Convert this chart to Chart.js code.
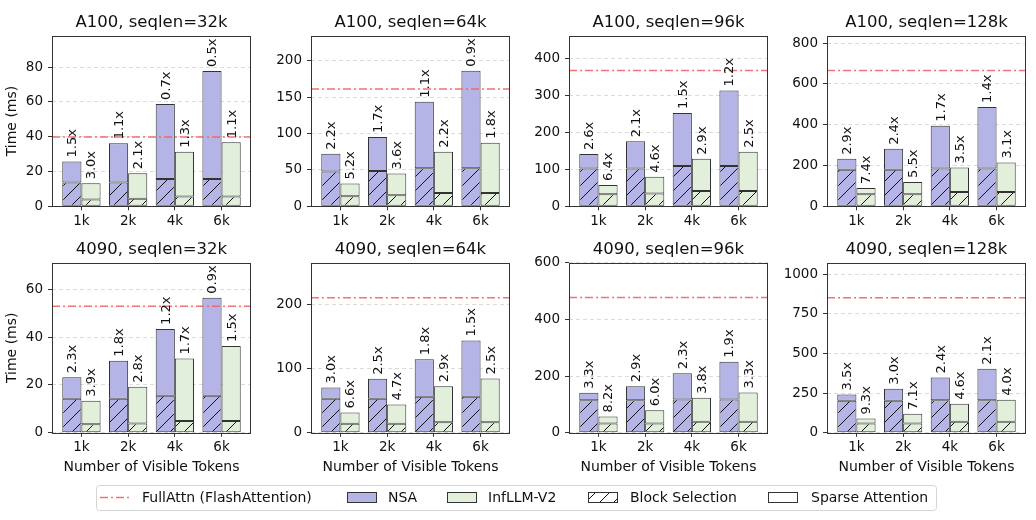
<!DOCTYPE html>
<html>
<head>
<meta charset="utf-8">
<script src="https://cdn.jsdelivr.net/npm/chart.js@4"></script>
<style>
  body { margin: 0; width: 1036px; height: 520px; background: #fff; position: relative; overflow: hidden; font-family: "DejaVu Sans", sans-serif; }
  .lg { position: absolute; top: 488px; height: 19px; line-height: 19px; font-size: 14px; color: #111; white-space: nowrap; }
</style>
</head>
<body>
<canvas id="legendCanvas" width="860" height="36" style="position:absolute;left:90px;top:480px"></canvas>
<span class="lg" style="left:142px">FullAttn (FlashAttention)</span>
<span class="lg" style="left:388px">NSA</span>
<span class="lg" style="left:488px">InfLLM-V2</span>
<span class="lg" style="left:630px">Block Selection</span>
<span class="lg" style="left:811px">Sparse Attention</span>
<script>
// Data (times in ms), one entry per panel
const categories = ['1k', '2k', '4k', '6k'];
const titles = ['A100, seqlen=32k', 'A100, seqlen=64k', 'A100, seqlen=96k', 'A100, seqlen=128k',
  '4090, seqlen=32k', '4090, seqlen=64k', '4090, seqlen=96k', '4090, seqlen=128k'];
const fullAttn = [39.8, 161, 366.6, 665.6, 52.9, 210.4, 477.6, 852.6];

const nsaBlock = [
  [13.7, 13.7, 15.7, 15.7], [47.7, 48.6, 52.3, 52.3], [102, 102, 109, 109], [178.7, 178.7, 185, 185],
  [14.2, 14.2, 15.5, 15.5], [53, 53, 56.1, 56.1], [115, 115, 117.6, 117.6], [202, 202, 206, 206]
];
const nsaSparse = [
  [12.1, 22.5, 43.1, 62.1], [24.3, 46.4, 91.3, 133.9], [38.9, 73.2, 142.9, 203.4], [54.1, 103.3, 210, 301.9],
  [9.0, 15.9, 27.9, 40.9], [17.6, 31.2, 58.7, 87.8], [26, 49.7, 93, 133], [40, 75.9, 143.5, 198.2]
];
const infBlock = [
  [3.9, 4.3, 5.6, 5.6], [13.8, 15.1, 18.3, 18.3], [32.5, 34.3, 41.5, 41.5], [59, 59, 70.5, 70.5],
  [3.6, 3.9, 4.9, 4.9], [14, 14, 16.6, 16.6], [33, 33, 38.8, 38.8], [59, 59, 69.5, 69.5]
];
const infSparse = [
  [9.3, 14.7, 25.8, 31.2], [17.4, 29.9, 56.5, 68.9], [25.0, 45.2, 86.7, 105.7], [31.2, 60.7, 119.5, 144.3],
  [9.8, 15.3, 26.1, 31.4], [17.8, 30.2, 56.1, 68.1], [24.5, 46.6, 84.7, 103.6], [31, 61, 113.5, 138.9]
];
const nsaSpeedup = [
  ['1.5x', '1.1x', '0.7x', '0.5x'], ['2.2x', '1.7x', '1.1x', '0.9x'], ['2.6x', '2.1x', '1.5x', '1.2x'], ['2.9x', '2.4x', '1.7x', '1.4x'],
  ['2.3x', '1.8x', '1.2x', '0.9x'], ['3.0x', '2.5x', '1.8x', '1.5x'], ['3.3x', '2.9x', '2.3x', '1.9x'], ['3.5x', '3.0x', '2.4x', '2.1x']
];
const infSpeedup = [
  ['3.0x', '2.1x', '1.3x', '1.1x'], ['5.2x', '3.6x', '2.2x', '1.8x'], ['6.4x', '4.6x', '2.9x', '2.5x'], ['7.4x', '5.5x', '3.5x', '3.1x'],
  ['3.9x', '2.8x', '1.7x', '1.5x'], ['6.6x', '4.7x', '2.9x', '2.5x'], ['8.2x', '6.0x', '3.8x', '3.3x'], ['9.3x', '7.1x', '4.6x', '4.0x']
];
const yMax = [98, 234, 460, 836, 71, 265, 600, 1073];
const yTicks = [
  [0, 20, 40, 60, 80], [0, 50, 100, 150, 200], [0, 100, 200, 300, 400], [0, 200, 400, 600, 800],
  [0, 20, 40, 60], [0, 100, 200], [0, 200, 400, 600], [0, 250, 500, 750, 1000]
];

const NSA_COLOR = '#b4b4e6';
const INF_COLOR = '#e2efda';
const EDGE = '#333';
const FONT = 'DejaVu Sans';

Chart.defaults.font.family = FONT;
Chart.defaults.color = '#111';

// diagonal "/" hatch like matplotlib
function hatch(color) {
  const s = 14;
  const c = document.createElement('canvas');
  c.width = s; c.height = s;
  const g = c.getContext('2d');
  g.fillStyle = color;
  g.fillRect(0, 0, s, s);
  g.strokeStyle = '#111';
  g.lineWidth = 1;
  g.beginPath();
  g.moveTo(0, s); g.lineTo(s, 0);
  g.moveTo(-1, 1); g.lineTo(1, -1);
  g.moveTo(s - 1, s + 1); g.lineTo(s + 1, s - 1);
  g.stroke();
  return g.createPattern(c, 'repeat');
}

const pts = arr => arr.map((v, k) => ({ x: k, y: v }));

function makePanel(i) {
  const row = Math.floor(i / 4), col = i % 4;
  const titleH = 24.8;
  const plotH = row === 0 ? 170.5 : 170;
  const height = row === 0 ? 222 : 241;
  const canvas = document.createElement('canvas');
  canvas.width = 257;
  canvas.height = height;
  canvas.style.position = 'absolute';
  canvas.style.left = (Math.round(52.3 + 258.3 * col) - 52) + 'px';
  canvas.style.top = (row === 0 ? 11 : 238) + 'px';
  document.body.appendChild(canvas);

  // full attention line, speedup labels, axes frame
  const overlay = {
    id: 'overlay',
    afterDatasetsDraw(chart) {
      const ctx = chart.ctx, a = chart.chartArea;
      const y = chart.scales.y.getPixelForValue(fullAttn[i]);
      ctx.save();
      ctx.strokeStyle = 'rgba(240,100,100,0.9)';
      ctx.lineWidth = 1.5;
      ctx.setLineDash([8, 3, 2, 3]);
      ctx.beginPath();
      ctx.moveTo(a.left, y);
      ctx.lineTo(a.right, y);
      ctx.stroke();
      ctx.setLineDash([]);

      ctx.font = '13px "' + FONT + '"';
      ctx.fillStyle = '#111';
      ctx.textAlign = 'left';
      ctx.textBaseline = 'middle';
      [[1, nsaSpeedup[i]], [3, infSpeedup[i]]].forEach(([di, txt]) => {
        chart.getDatasetMeta(di).data.forEach((bar, k) => {
          ctx.save();
          ctx.translate(bar.x, bar.y - 4);
          ctx.rotate(-Math.PI / 2);
          ctx.fillText(txt[k], 0, 1);
          ctx.restore();
        });
      });

      ctx.strokeStyle = EDGE;
      ctx.lineWidth = 1;
      const l = Math.round(a.left) + 0.5, t = Math.round(a.top) + 0.5;
      ctx.strokeRect(l, t, Math.round(a.right) - Math.round(a.left) - 1, Math.round(a.bottom) - Math.round(a.top));
      ctx.restore();
    }
  };

  const bar = { borderColor: EDGE, borderWidth: 1, borderSkipped: false, barPercentage: 1, categoryPercentage: 0.82 };

  new Chart(canvas, {
    type: 'bar',
    data: {
      datasets: [
        { ...bar, label: 'NSA block', stack: 'nsa', data: pts(nsaBlock[i]), backgroundColor: hatch(NSA_COLOR) },
        { ...bar, label: 'NSA sparse', stack: 'nsa', data: pts(nsaSparse[i]), backgroundColor: NSA_COLOR },
        { ...bar, label: 'InfLLM block', stack: 'inf', data: pts(infBlock[i]), backgroundColor: hatch(INF_COLOR) },
        { ...bar, label: 'InfLLM sparse', stack: 'inf', data: pts(infSparse[i]), backgroundColor: INF_COLOR }
      ]
    },
    options: {
      responsive: false,
      animation: false,
      events: [],
      devicePixelRatio: 1,
      layout: { padding: { right: 6 } },
      plugins: {
        legend: { display: false },
        tooltip: { enabled: false },
        title: {
          display: true, text: titles[i], color: '#111', fullSize: false,
          font: { size: 16.5, weight: 'normal' }, padding: { top: 2, bottom: 3 }
        }
      },
      scales: {
        x: {
          type: 'linear', min: -0.63, max: 3.63, offset: false,
          afterBuildTicks: s => { s.ticks = categories.map((c, k) => ({ value: k })); },
          afterFit: s => { s.height = height - titleH - plotH; },
          ticks: { callback: (v, k) => categories[k], font: { size: 13.5 }, padding: 3, maxRotation: 0, autoSkip: false },
          grid: { offset: false, drawOnChartArea: false, drawTicks: true, tickLength: 4, tickColor: EDGE },
          border: { display: false },
          title: {
            display: row === 1, text: 'Number of Visible Tokens',
            font: { size: 14 }, padding: { top: 0, bottom: 2.9 }
          }
        },
        y: {
          stacked: true, min: 0, max: yMax[i],
          afterBuildTicks: s => { s.ticks = yTicks[i].map(v => ({ value: v })); },
          afterFit: s => { s.width = 52; },
          ticks: { callback: v => String(v), font: { size: 13.5 }, padding: 5 },
          grid: { color: '#dcdcdc', lineWidth: 1, drawTicks: true, tickLength: 4, tickColor: EDGE },
          border: { display: false, dash: [4, 3] },
          title: {
            display: col === 0, text: 'Time (ms)',
            font: { size: 14 }, padding: { top: 4.3, bottom: 0 }
          }
        }
      }
    },
    plugins: [overlay]
  });
}

for (let i = 0; i < 8; i++) makePanel(i);

// Legend swatches
const lc = document.getElementById('legendCanvas').getContext('2d');
lc.strokeStyle = '#d5d5d5';
lc.lineWidth = 1;
lc.beginPath();
lc.roundRect(6.5, 5.5, 840, 25, 3);
lc.stroke();

lc.strokeStyle = 'rgba(240,100,100,0.9)';
lc.lineWidth = 1.5;
lc.setLineDash([8, 3, 2, 3]);
lc.beginPath();
lc.moveTo(10, 17.5);
lc.lineTo(40, 17.5);
lc.stroke();
lc.setLineDash([]);

[[257, NSA_COLOR], [357, INF_COLOR], [498, hatch('#fff')], [678, '#fff']].forEach(([x, fill]) => {
  lc.fillStyle = fill;
  lc.fillRect(x, 12, 30, 10);
  lc.strokeStyle = EDGE;
  lc.lineWidth = 1;
  lc.strokeRect(x + 0.5, 12.5, 29, 10);
});
</script>
</body>
</html>
